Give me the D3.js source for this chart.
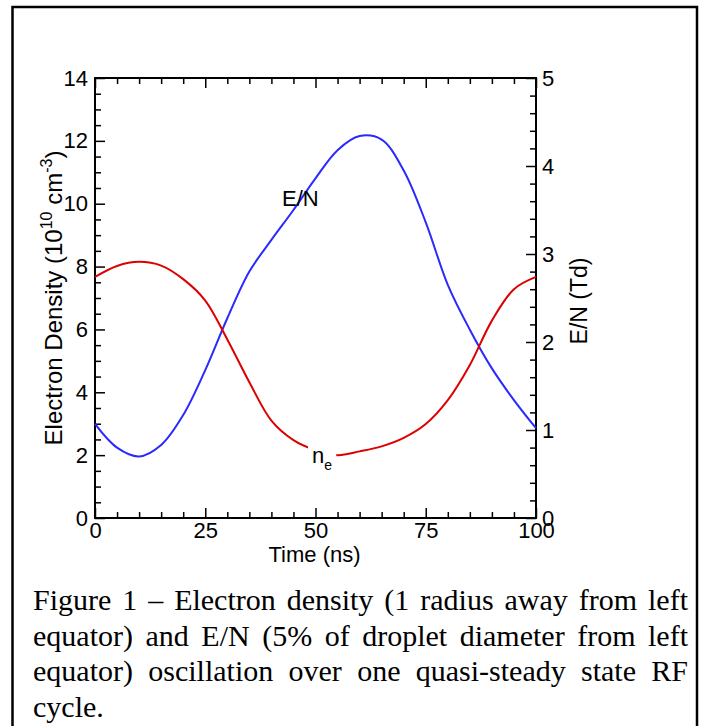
<!DOCTYPE html>
<html>
<head>
<meta charset="utf-8">
<script src="https://cdn.jsdelivr.net/npm/d3@7/dist/d3.min.js"></script>
<style>
  html, body { margin: 0; padding: 0; background: #fff; }
  svg { display: block; }
</style>
</head>
<body>
<script>
// ---------------- data ----------------
const timeNs = [0, 5, 10, 15, 20, 25, 30, 35, 40, 45, 50, 55, 60, 65, 70, 75, 80, 85, 90, 95, 100];
const electronDensity = [7.67, 8.02, 8.15, 8.03, 7.60, 6.92, 5.68, 4.32, 3.10, 2.48, 2.16, 2.00, 2.12, 2.28, 2.55, 2.99, 3.75, 4.87, 6.28, 7.28, 7.67];
const eOverN = [1.07, 0.80, 0.70, 0.83, 1.17, 1.68, 2.27, 2.80, 3.16, 3.50, 3.86, 4.18, 4.34, 4.30, 3.95, 3.36, 2.65, 2.14, 1.70, 1.34, 1.02];

const xMajorTicks = [0, 25, 50, 75, 100];
const leftMajorTicks = [0, 2, 4, 6, 8, 10, 12, 14];
const rightMajorTicks = [0, 1, 2, 3, 4, 5];

const captionLines = [
  "Figure 1 \u2013 Electron density (1 radius away from left",
  "equator) and E/N (5% of droplet diameter from left",
  "equator) oscillation over one quasi-steady state RF",
  "cycle."
];

// ---------------- layout ----------------
const W = 702, H = 726;
const plot = { left: 95, right: 536, top: 78, bottom: 518 };
const sans = "'Liberation Sans', Arial, sans-serif";
const serif = "'Liberation Serif', 'Times New Roman', serif";
const red = "#dd0000", blue = "#2a2aff";

const svg = d3.select("body").append("svg")
  .attr("width", W).attr("height", H)
  .style("background", "#fff");

// outer figure border
svg.append("rect")
  .attr("x", 12.5).attr("y", 7)
  .attr("width", 684.5).attr("height", 740)
  .attr("fill", "none").attr("stroke", "#000").attr("stroke-width", 2.5);

const x = d3.scaleLinear().domain([0, 100]).range([plot.left, plot.right]);
const yL = d3.scaleLinear().domain([0, 14]).range([plot.bottom, plot.top]);
const yR = d3.scaleLinear().domain([0, 5]).range([plot.bottom, plot.top]);

const xMinor = d3.range(0, 101, 5).filter(v => v % 25 !== 0);
const lMinor = d3.range(0, 14.01, 0.5).filter(v => v % 2 !== 0);
const rMinor = d3.range(0, 5.001, 0.2).map(v => +v.toFixed(1)).filter(v => Math.abs(v - Math.round(v)) > 1e-6);

function styleAxis(g) {
  g.select(".domain").remove();
  g.selectAll("line").attr("stroke", "#000").attr("stroke-width", 1.5);
  g.selectAll("text").attr("font-family", sans).attr("font-size", 22).attr("fill", "#000");
}

// bottom
svg.append("g").attr("transform", `translate(0,${plot.bottom})`)
  .call(d3.axisBottom(x).tickValues(xMajorTicks).tickSize(-10).tickPadding(4).tickFormat(d3.format("d")))
  .call(styleAxis);
svg.append("g").attr("transform", `translate(0,${plot.bottom})`)
  .call(d3.axisBottom(x).tickValues(xMinor).tickSize(-6).tickFormat(""))
  .call(styleAxis);
// top
svg.append("g").attr("transform", `translate(0,${plot.top})`)
  .call(d3.axisTop(x).tickValues(xMajorTicks).tickSize(-10).tickFormat(""))
  .call(styleAxis);
svg.append("g").attr("transform", `translate(0,${plot.top})`)
  .call(d3.axisTop(x).tickValues(xMinor).tickSize(-6).tickFormat(""))
  .call(styleAxis);
// left
svg.append("g").attr("transform", `translate(${plot.left},0)`)
  .call(d3.axisLeft(yL).tickValues(leftMajorTicks).tickSize(-10).tickPadding(7).tickFormat(d3.format("d")))
  .call(styleAxis);
svg.append("g").attr("transform", `translate(${plot.left},0)`)
  .call(d3.axisLeft(yL).tickValues(lMinor).tickSize(-6).tickFormat(""))
  .call(styleAxis);
// right
svg.append("g").attr("transform", `translate(${plot.right},0)`)
  .call(d3.axisRight(yR).tickValues(rightMajorTicks).tickSize(-10).tickPadding(6).tickFormat(d3.format("d")))
  .call(styleAxis);
svg.append("g").attr("transform", `translate(${plot.right},0)`)
  .call(d3.axisRight(yR).tickValues(rMinor).tickSize(-6).tickFormat(""))
  .call(styleAxis);

// frame
svg.append("rect")
  .attr("x", plot.left).attr("y", plot.top)
  .attr("width", plot.right - plot.left).attr("height", plot.bottom - plot.top)
  .attr("fill", "none").attr("stroke", "#000").attr("stroke-width", 2);

// ---------------- lines ----------------
const neData = timeNs.map((t, i) => ({ t, v: electronDensity[i] }));
const enData = timeNs.map((t, i) => ({ t, v: eOverN[i] }));

svg.append("path").datum(enData)
  .attr("fill", "none").attr("stroke", blue).attr("stroke-width", 2)
  .attr("d", d3.line().x(d => x(d.t)).y(d => yR(d.v)).curve(d3.curveCatmullRom.alpha(0.5)));

svg.append("path").datum(neData)
  .attr("fill", "none").attr("stroke", red).attr("stroke-width", 2)
  .attr("d", d3.line().x(d => x(d.t)).y(d => yL(d.v)).curve(d3.curveCatmullRom.alpha(0.5)));

// labels on curves
svg.append("text")
  .attr("x", 282).attr("y", 206)
  .attr("font-family", sans).attr("font-size", 22).attr("fill", "#000")
  .text("E/N");

const neG = svg.append("g");
const neRect = neG.append("rect").attr("fill", "#fff");
const neText = neG.append("text")
  .attr("x", 312).attr("y", 463)
  .attr("font-family", sans).attr("font-size", 22).attr("fill", "#000");
neText.append("tspan").text("n");
neText.append("tspan").attr("font-size", 14).attr("dy", 7).text("e");
const nb = neText.node().getBBox();
neRect.attr("x", nb.x - 4).attr("y", nb.y).attr("width", nb.width + 8).attr("height", nb.height);

// ---------------- axis titles ----------------
svg.append("text")
  .attr("x", (plot.left + plot.right) / 2 - 1).attr("y", 562)
  .attr("text-anchor", "middle")
  .attr("font-family", sans).attr("font-size", 22).attr("fill", "#000")
  .text("Time (ns)");

const lt = svg.append("text")
  .attr("transform", `translate(62,${(plot.top + plot.bottom) / 2}) rotate(-90)`)
  .attr("text-anchor", "middle")
  .attr("font-family", sans).attr("font-size", 24).attr("fill", "#000");
lt.append("tspan").text("Electron Density (10");
lt.append("tspan").attr("font-size", 16).attr("dy", -10).text("10");
lt.append("tspan").attr("dy", 10).text(" cm");
lt.append("tspan").attr("font-size", 16).attr("dy", -10).text("-3");
lt.append("tspan").attr("dy", 10).text(")");

svg.append("text")
  .attr("transform", `translate(587,${(plot.top + plot.bottom) / 2 + 3}) rotate(-90)`)
  .attr("text-anchor", "middle")
  .attr("font-family", sans).attr("font-size", 23).attr("fill", "#000")
  .text("E/N (Td)");

// ---------------- caption (justified) ----------------
const capLeft = 33, capRight = 688;
const capBaselines = [610, 646, 681, 717];
captionLines.forEach((line, li) => {
  const words = line.split(" ");
  const g = svg.append("g");
  const nodes = words.map(w => g.append("text")
    .attr("font-family", serif).attr("font-size", 30).attr("fill", "#000")
    .attr("y", capBaselines[li]).text(w));
  const widths = nodes.map(n => n.node().getComputedTextLength());
  const total = d3.sum(widths);
  const last = li === captionLines.length - 1;
  const gap = (!last && words.length > 1) ? (capRight - capLeft - total) / (words.length - 1) : 7;
  let cx = capLeft;
  nodes.forEach((n, i) => { n.attr("x", cx); cx += widths[i] + gap; });
});
</script>
</body>
</html>
